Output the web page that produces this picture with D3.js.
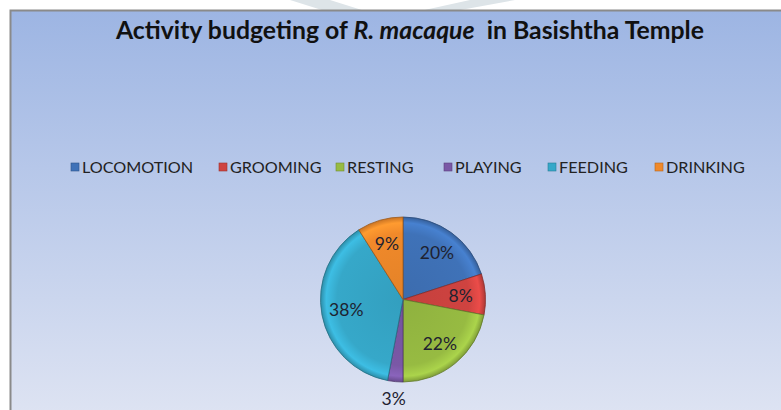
<!DOCTYPE html>
<html><head><meta charset="utf-8">
<script src="https://cdn.jsdelivr.net/npm/d3@7"></script>
<style>body{margin:0;background:#fff;}svg{display:block;}</style>
</head><body>
<svg id="c" width="781" height="410"></svg>
<script>
const categories = ["LOCOMOTION","GROOMING","RESTING","PLAYING","FEEDING","DRINKING"];
const values = [20, 8, 22, 3, 38, 9];
const colors = ["#3f72b8","#cf4340","#97bb42","#7a58a6","#36a8c9","#f0892a"];
const titleParts = [{t:"Activity budgeting of ",i:false},{t:"R. macaque",i:true},{t:"  in Basishtha Temple",i:false}];

const svg = d3.select("#c");
const defs = svg.append("defs");
const bg = defs.append("linearGradient").attr("id","bg").attr("x1",0).attr("y1",0).attr("x2",0).attr("y2",1);
bg.append("stop").attr("offset","0%").attr("stop-color","#9db5e3");
bg.append("stop").attr("offset","100%").attr("stop-color","#e0e5f3");

// faint watermark above chart
svg.append("path").attr("d","M290,0 L330,0 L365,11 L325,11 Z").attr("fill","#dde4e8");
svg.append("path").attr("d","M470,0 L515,0 L455,11 L420,11 Z").attr("fill","#dde4e8");

svg.append("rect").attr("x",10.5).attr("y",10.5).attr("width",800).attr("height",420)
  .attr("fill","url(#bg)").attr("stroke","#8a8a8a").attr("stroke-width",2);

// title
const title = svg.append("text").attr("x",410).attr("y",39).attr("text-anchor","middle")
  .attr("font-family","Lato, 'Open Sans', sans-serif").attr("font-weight","bold")
  .attr("font-size",24.8).attr("fill","#111");
titleParts.forEach(p=>title.append("tspan").text(p.t).attr("font-style",p.i?"italic":"normal").attr("xml:space","preserve"));

// legend
const legendX = [71, 219, 336, 444, 548, 655];
const lg = svg.append("g").attr("font-family","Lato, 'Open Sans', sans-serif").attr("font-size",16.2).attr("fill","#222");
categories.forEach((c,i)=>{
  const g = lg.append("g").attr("transform",`translate(${legendX[i]},167)`);
  g.append("rect").attr("x",0).attr("y",-4).attr("width",8).attr("height",8).attr("fill",colors[i]).attr("stroke",d3.color(colors[i]).darker(0.8)).attr("stroke-width",0.6);
  g.append("text").attr("x",11).attr("y",0).attr("dy","0.35em").text(c);
});

// pie
const cx = 403, cy = 299.5, R = 82.5;
const pie = d3.pie().sort(null).value(d=>d);
const arcs = pie(values);
const arc = d3.arc().innerRadius(0).outerRadius(R);
const pg = svg.append("g").attr("transform",`translate(${cx},${cy})`);

colors.forEach((col,i)=>{
  const rg = defs.append("radialGradient").attr("id","g"+i).attr("gradientUnits","userSpaceOnUse")
    .attr("cx",0).attr("cy",0).attr("r",R);
  rg.append("stop").attr("offset","0%").attr("stop-color",d3.color(col).darker(0.15));
  rg.append("stop").attr("offset","80%").attr("stop-color",col);
  rg.append("stop").attr("offset","93%").attr("stop-color",d3.color(col).brighter(0.35));
  rg.append("stop").attr("offset","100%").attr("stop-color",d3.color(col).darker(0.5));
});

pg.selectAll("path.s").data(arcs).enter().append("path").attr("class","s")
  .attr("d",arc).attr("fill",(d,i)=>`url(#g${i})`)
  .attr("stroke",(d,i)=>d3.color(colors[i]).darker(1.2)).attr("stroke-width",0.8);

const inner = d3.arc().innerRadius(R*0.7).outerRadius(R*0.7);
const outer = d3.arc().innerRadius(R+17).outerRadius(R+17);
pg.selectAll("text.l").data(arcs).enter().append("text").attr("class","l")
  .attr("transform",d=>`translate(${(d.data<5?outer:inner).centroid(d)})`)
  .attr("text-anchor","middle").attr("dy","0.35em")
  .attr("font-family","Lato, 'Open Sans', sans-serif").attr("font-size",17.5).attr("fill","#1e2230")
  .text(d=>d.data+"%");
</script>
</body></html>
